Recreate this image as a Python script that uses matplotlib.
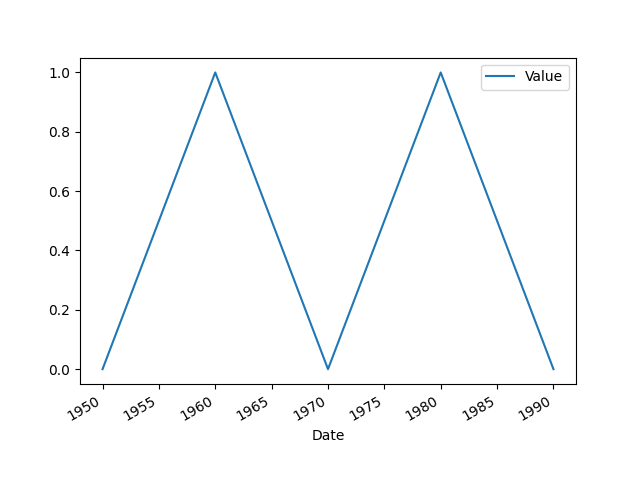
import matplotlib
matplotlib.use('Agg')
import matplotlib.pyplot as plt
import pandas as pd

dates = ['1950-01-01', '1960-01-01', '1970-01-01', '1980-01-01', '1990-01-01']
values = [0, 1, 0, 1, 0]

x = pd.to_datetime(dates).to_pydatetime()

fig, ax = plt.subplots(figsize=(6.4, 4.8))
ax.plot(x, values, label='Value')
ax.set_xlabel('Date')
ax.legend()
fig.autofmt_xdate()
plt.savefig('out.png', dpi=100)
plt.close()
